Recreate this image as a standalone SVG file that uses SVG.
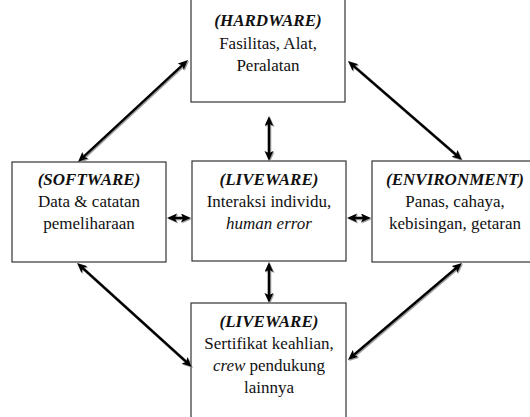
<svg xmlns="http://www.w3.org/2000/svg" width="530" height="417" viewBox="0 0 530 417">
<style>
.box{fill:#fff;stroke:#333;stroke-width:1.2}
.t text{font-family:"Liberation Serif","Times New Roman","DejaVu Serif",serif;font-size:17px;fill:#111;text-anchor:middle}
.h{font-weight:bold;font-style:italic}
.i{font-style:italic}
.c{fill:none;stroke:#000;stroke-width:2.6;marker-start:url(#ah);marker-end:url(#ah)}
</style>
<defs>
<marker id="ah" markerUnits="userSpaceOnUse" markerWidth="12" markerHeight="10" refX="4" refY="4.5" orient="auto-start-reverse">
<path d="M0,0 L10,4.5 L0,9 L2,4.5 z" fill="#000"/>
</marker>
<filter id="sh" filterUnits="userSpaceOnUse" x="0" y="0" width="530" height="417">
<feDropShadow dx="1" dy="1" stdDeviation="0.4" flood-color="#888" flood-opacity="0.8"/>
</filter>
</defs>
<rect width="530" height="417" fill="#fff"/>
<g class="t">
<g id="hardware">
<rect class="box" x="191" y="-10" width="154" height="112"/>
<text x="268" y="26" class="h">(HARDWARE)</text>
<text x="268" y="49">Fasilitas, Alat,</text>
<text x="268" y="71">Peralatan</text>
</g>
<g id="software">
<rect class="box" x="12" y="162" width="154" height="100"/>
<text x="89" y="185" class="h">(SOFTWARE)</text>
<text x="89" y="207">Data &amp; catatan</text>
<text x="89" y="229">pemeliharaan</text>
</g>
<g id="liveware-center">
<rect class="box" x="192" y="161" width="154" height="100"/>
<text x="269" y="185" class="h">(LIVEWARE)</text>
<text x="269" y="207">Interaksi individu,</text>
<text x="269" y="229" class="i">human error</text>
</g>
<g id="environment">
<rect class="box" x="372" y="161" width="170" height="101"/>
<text x="455" y="185" class="h">(ENVIRONMENT)</text>
<text x="455" y="207">Panas, cahaya,</text>
<text x="455" y="229">kebisingan, getaran</text>
</g>
<g id="liveware-bottom">
<rect class="box" x="191" y="303" width="155" height="130"/>
<text x="269" y="327" class="h">(LIVEWARE)</text>
<text x="269" y="349">Sertifikat keahlian,</text>
<text x="269" y="371"><tspan class="i">crew</tspan> pendukung</text>
<text x="269" y="393">lainnya</text>
</g>
</g>
<g id="connectors" filter="url(#sh)">
<line class="c" x1="183.6" y1="64.1" x2="82.4" y2="157.9"/>
<line class="c" x1="352.5" y1="64.9" x2="457.5" y2="156.1"/>
<line class="c" x1="81.5" y1="267" x2="187.5" y2="363"/>
<line class="c" x1="457.4" y1="266.9" x2="352.6" y2="356.1"/>
<line class="c" x1="269" y1="122" x2="269" y2="155"/>
<line class="c" x1="269" y1="268" x2="269" y2="297"/>
<line class="c" x1="173" y1="218" x2="185" y2="218"/>
<line class="c" x1="353" y1="218" x2="365" y2="218"/>
</g>
</svg>
